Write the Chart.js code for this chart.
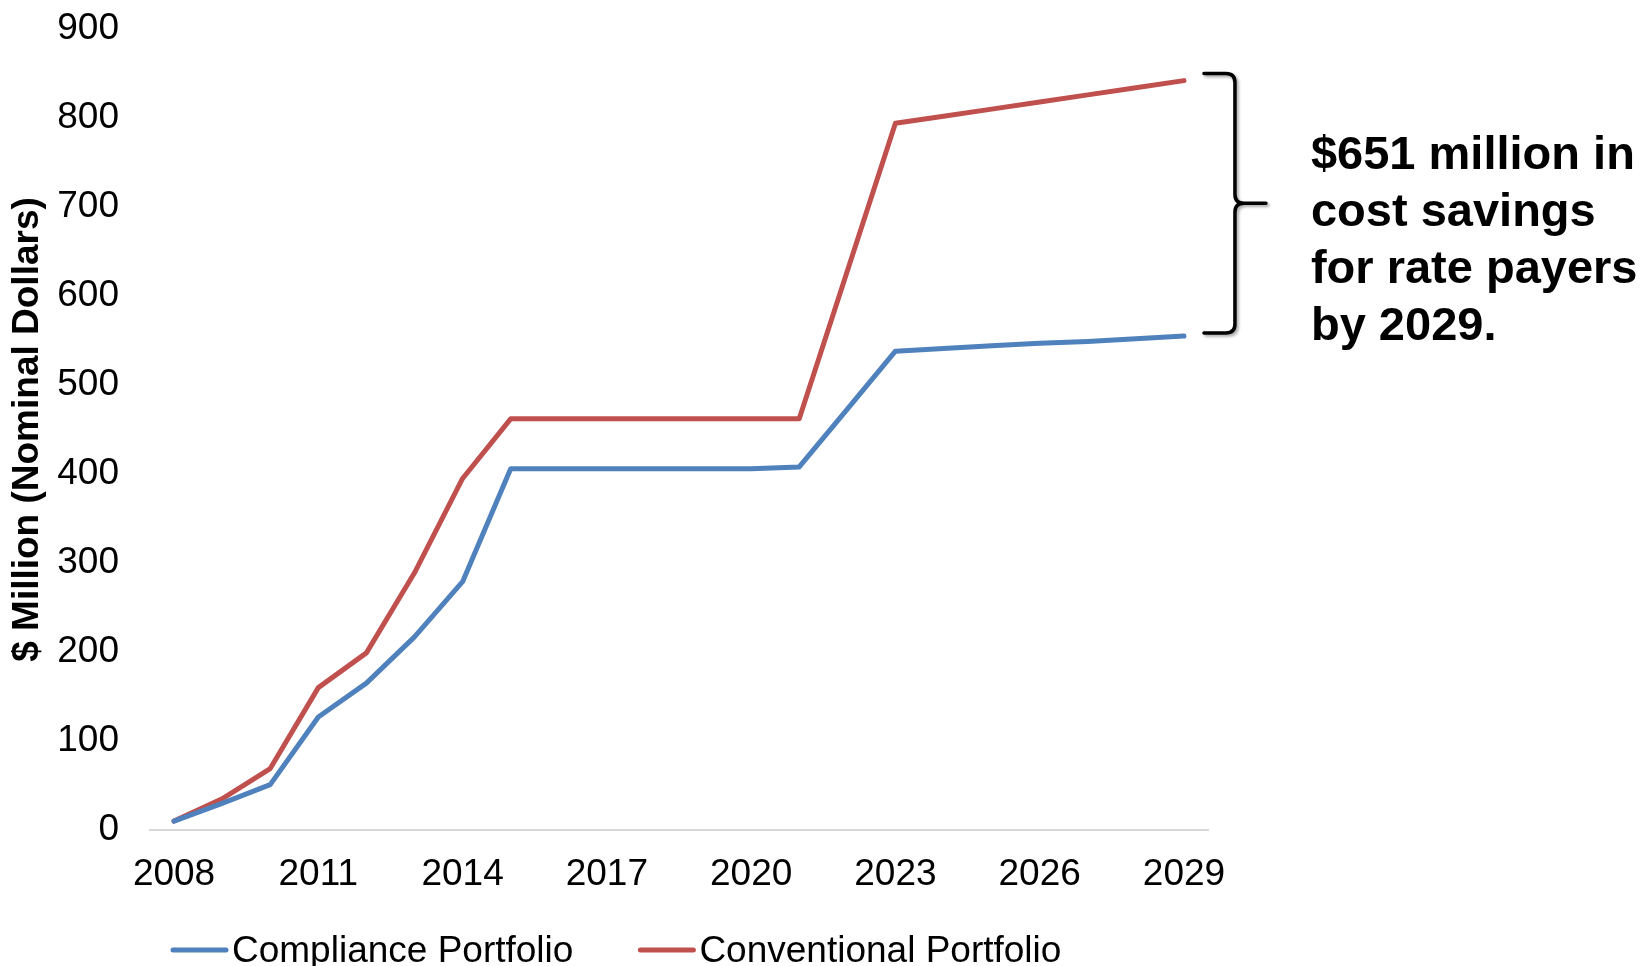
<!DOCTYPE html>
<html>
<head>
<meta charset="utf-8">
<script src="https://cdn.jsdelivr.net/npm/chart.js@4.4.1/dist/chart.umd.min.js"></script>
<style>
  html, body { margin: 0; padding: 0; background: #fff; }
  #wrap { width: 1646px; height: 966px; position: relative; }
</style>
</head>
<body>
<div id="wrap"><canvas id="chart"></canvas></div>
<script>
const years = ['2008', '2009', '2010', '2011', '2012', '2013', '2014', '2015', '2016', '2017', '2018',
  '2019', '2020', '2021', '2022', '2023', '2024', '2025', '2026', '2027', '2028', '2029'];
const compliance = [10, 30, 51, 127, 165, 217, 279, 406, 406, 406, 406, 406, 406, 408, 473, 538,
  541, 544, 547, 549, 552, 555];
const conventional = [10, 35, 69, 160, 199, 289, 395, 462, 462, 462, 462, 462, 462, 462, 628, 794,
  802, 810, 818, 826, 834, 842];
const yTicks = [0, 100, 200, 300, 400, 500, 600, 700, 800, 900];
const yTitle = '$ Million (Nominal Dollars)';
const noteLines = ['$651 million in', 'cost savings', 'for rate payers', 'by 2029.'];

const FONT = '"Liberation Sans", Arial, sans-serif';
Chart.defaults.font.family = FONT;
Chart.defaults.color = '#000';

// brace + note on the right, tied to the last values
const bracePlugin = {
  id: 'brace',
  afterDraw(chart) {
    const { ctx } = chart;
    const x = chart.scales.x, y = chart.scales.y;
    const last = years.length - 1;
    const x0 = x.getPixelForValue(last) + 20;
    const xv = x0 + 31, xt = x0 + 62, r = 9;
    const yt = y.getPixelForValue(conventional[last]) - 7;
    const yb = y.getPixelForValue(compliance[last]) - 3;
    const ym = (yt + yb) / 2;
    ctx.save();
    ctx.strokeStyle = '#000';
    ctx.lineWidth = 3.5;
    ctx.lineCap = 'round';
    ctx.shadowColor = 'rgba(0,0,0,0.35)';
    ctx.shadowBlur = 3;
    ctx.shadowOffsetX = 2;
    ctx.shadowOffsetY = 2;
    ctx.beginPath();
    ctx.moveTo(x0, yt);
    ctx.lineTo(xv - r, yt);
    ctx.quadraticCurveTo(xv, yt, xv, yt + r);
    ctx.lineTo(xv, ym - r);
    ctx.quadraticCurveTo(xv, ym, xv + r, ym);
    ctx.lineTo(xt, ym);
    ctx.moveTo(xv + r, ym);
    ctx.quadraticCurveTo(xv, ym, xv, ym + r);
    ctx.lineTo(xv, yb - r);
    ctx.quadraticCurveTo(xv, yb, xv - r, yb);
    ctx.lineTo(x0, yb);
    ctx.stroke();
    ctx.restore();

    ctx.save();
    ctx.fillStyle = '#000';
    ctx.font = 'bold 47px ' + FONT;
    ctx.textAlign = 'left';
    ctx.textBaseline = 'alphabetic';
    noteLines.forEach((t, i) => ctx.fillText(t, x0 + 107, yt + 95 + i * 57));
    ctx.restore();
  }
};

// legend drawn under the axis, line + label
const legendPlugin = {
  id: 'lineLegend',
  afterDraw(chart) {
    const { ctx, chartArea } = chart;
    let cx = chartArea.left + 23;
    const ly = chartArea.bottom + 120;
    ctx.save();
    ctx.font = '37px ' + FONT;
    ctx.textBaseline = 'alphabetic';
    chart.data.datasets.forEach(ds => {
      ctx.strokeStyle = ds.borderColor;
      ctx.lineWidth = 5;
      ctx.lineCap = 'round';
      ctx.beginPath();
      ctx.moveTo(cx, ly);
      ctx.lineTo(cx + 53, ly);
      ctx.stroke();
      cx += 59;
      ctx.fillStyle = '#000';
      ctx.fillText(ds.label, cx, ly + 12);
      cx += ctx.measureText(ds.label).width + 67;
    });
    ctx.restore();
  }
};

new Chart(document.getElementById('chart'), {
  type: 'line',
  data: {
    labels: years,
    datasets: [
      { label: 'Compliance Portfolio', data: compliance, borderColor: '#4F81BD', backgroundColor: '#4F81BD' },
      { label: 'Conventional Portfolio', data: conventional, borderColor: '#C0504D', backgroundColor: '#C0504D' },
    ].map(ds => ({
      ...ds,
      borderWidth: 5,
      pointRadius: 0,
      tension: 0,
      borderCapStyle: 'round',
      borderJoinStyle: 'round',
    })),
  },
  options: {
    responsive: true,
    maintainAspectRatio: false,
    animation: false,
    layout: { padding: { top: 29, right: 438, left: 0, bottom: 0 } },
    scales: {
      x: {
        offset: true,
        grid: { display: false, drawTicks: false },
        border: { display: true, color: '#d9d9d9', width: 2 },
        ticks: {
          autoSkip: false,
          maxRotation: 0,
          padding: 23,
          font: { size: 37 },
          callback: (v, i) => (i % 3 === 0 ? years[i] : ''),
        },
        afterFit: s => { s.height = 136; },
      },
      y: {
        min: 0,
        max: 900,
        afterBuildTicks: s => { s.ticks = yTicks.map(v => ({ value: v })); },
        // invisible tick marks give the label gap without padding the top
        grid: { display: true, drawOnChartArea: false, drawTicks: true, tickLength: 31, color: 'rgba(0,0,0,0)' },
        border: { display: false },
        ticks: { padding: 0, font: { size: 37 } },
        title: {
          display: true,
          text: yTitle,
          font: { size: 37, weight: 'bold' },
          padding: { top: 6, bottom: 0 },
        },
        afterFit: s => { s.width = 150; },
      },
    },
    plugins: {
      legend: { display: false },
      tooltip: { enabled: false },
    },
  },
  plugins: [bracePlugin, legendPlugin],
});
</script>
</body>
</html>
